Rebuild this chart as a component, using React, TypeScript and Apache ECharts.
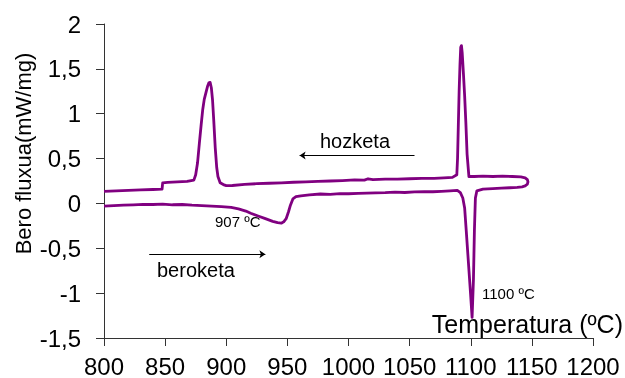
import React, { useEffect, useRef } from "react";
import * as echarts from "echarts";

// Temperature (°C), heat flux (mW/mg) — heating branch (beroketa), x ascending
const heatingT = [800, 808, 816, 824, 832, 840, 848, 856, 864, 872, 880, 888, 896, 904, 910, 916, 920, 926, 932, 938, 942, 945, 947, 949, 951, 952.5, 954.5, 957, 961, 968, 977, 985, 993, 1000, 1008, 1015, 1022, 1030, 1038, 1046, 1054, 1062, 1069, 1076, 1083, 1089, 1091.5, 1093.5, 1095, 1096.3, 1098.1, 1099.9, 1101.1, 1102.2, 1103, 1103.8, 1105, 1110, 1118, 1125, 1132, 1138, 1142];
const heatingF = [-0.03, -0.025, -0.02, -0.015, -0.01, -0.012, -0.008, -0.015, -0.012, -0.02, -0.025, -0.03, -0.035, -0.045, -0.06, -0.085, -0.11, -0.14, -0.17, -0.2, -0.215, -0.22, -0.205, -0.17, -0.09, -0.02, 0.05, 0.075, 0.085, 0.095, 0.105, 0.1, 0.11, 0.108, 0.112, 0.115, 0.118, 0.12, 0.125, 0.122, 0.128, 0.13, 0.13, 0.135, 0.14, 0.145, 0.12, 0.06, -0.05, -0.3, -0.66, -1.02, -1.27, -0.85, -0.3, 0.06, 0.14, 0.16, 0.165, 0.17, 0.175, 0.18, 0.185];

// Turning loop at the maximum temperature
const loopT = [1144.5, 1146.3, 1146.8, 1146.3, 1144.5];
const loopF = [0.195, 0.215, 0.24, 0.265, 0.285];

// Cooling branch (hozketa), x descending
const coolingT = [1141, 1134, 1126, 1118, 1110, 1103, 1098.5, 1097, 1096, 1095, 1094, 1093, 1092.4, 1091.8, 1091.2, 1090.5, 1089.8, 1089.2, 1088.6, 1085, 1078, 1070, 1060, 1050, 1040, 1030, 1020, 1016, 1013, 1005, 995, 985, 975, 965, 955, 945, 935, 925, 915, 905, 900, 897.6, 895, 893.2, 892.2, 891, 889.8, 888.8, 887.8, 886.8, 885.8, 884.8, 883.5, 882, 880.8, 879.5, 878, 876.5, 875, 873.5, 868, 860, 852, 848, 847.5, 840, 830, 820, 810, 800];
const coolingF = [0.295, 0.3, 0.305, 0.3, 0.305, 0.3, 0.3, 0.55, 0.9, 1.2, 1.45, 1.68, 1.76, 1.74, 1.55, 1.25, 0.85, 0.5, 0.32, 0.29, 0.285, 0.28, 0.28, 0.275, 0.27, 0.272, 0.265, 0.275, 0.26, 0.262, 0.255, 0.25, 0.245, 0.24, 0.236, 0.23, 0.225, 0.22, 0.212, 0.2, 0.198, 0.21, 0.23, 0.3, 0.4, 0.62, 0.92, 1.15, 1.29, 1.35, 1.345, 1.31, 1.24, 1.16, 1.05, 0.88, 0.67, 0.45, 0.32, 0.26, 0.245, 0.24, 0.235, 0.23, 0.16, 0.155, 0.15, 0.145, 0.14, 0.135];

// Axis ticks
const xMin = 800, xMax = 1200, xStep = 50;
const yMin = -1.5, yMax = 2, yStep = 0.5;

// Direction arrows (data coordinates)
const coolingArrow = [[1054, 0.535], [960, 0.535]];
const heatingArrow = [[837, -0.566], [932, -0.566]];

// Texts
const yAxisTitle = "Bero fluxua(mW/mg)";
const xAxisTitle = "Temperatura (ºC)";
const coolingLabel = "hozketa";
const heatingLabel = "beroketa";
const onsetLabel = "907 ºC";
const peakLabel = "1100 ºC";

const FONT = "'Liberation Sans', Arial, sans-serif";

export default function App() {
  const ref = useRef<HTMLDivElement>(null);
  useEffect(() => {
    document.body.style.margin = "0";
    const chart = echarts.init(ref.current!, null, { renderer: "svg" });
    const data: number[][] = [];
    heatingT.forEach((t, i) => data.push([t, heatingF[i]]));
    loopT.forEach((t, i) => data.push([t, loopF[i]]));
    coolingT.forEach((t, i) => data.push([t, coolingF[i]]));
    const axisColor = "#333333";
    chart.setOption({
      animation: false,
      textStyle: { fontFamily: FONT },
      grid: { left: 104, right: 32, top: 24, bottom: 40, containLabel: false },
      xAxis: {
        type: "value",
        min: xMin,
        max: xMax,
        interval: xStep,
        axisLine: { onZero: false, lineStyle: { color: axisColor, width: 1 } },
        axisTick: { show: true, length: 8, inside: false, lineStyle: { color: axisColor } },
        splitLine: { show: false },
        axisLabel: { color: "#000", fontSize: 24, margin: 16, fontFamily: FONT, formatter: (v: number) => String(v) },
      },
      yAxis: {
        type: "value",
        min: yMin,
        max: yMax,
        interval: yStep,
        axisLine: { show: true, onZero: false, lineStyle: { color: axisColor, width: 1 } },
        axisTick: { show: true, length: 8, inside: false, lineStyle: { color: axisColor } },
        splitLine: { show: false },
        axisLabel: {
          color: "#000",
          fontSize: 24,
          margin: 23,
          fontFamily: FONT,
          formatter: (v: number) => String(v).replace(".", ","),
        },
      },
      series: [
        {
          type: "line",
          data,
          showSymbol: false,
          symbol: "none",
          smooth: false,
          clip: false,
          lineStyle: { color: "#800080", width: 2.8, join: "round" },
          markLine: {
            silent: true,
            symbol: ["none", "arrow"],
            symbolSize: 6,
            label: { show: false },
            lineStyle: { color: "#000", width: 1, type: "solid" },
            data: [
              [{ coord: coolingArrow[0] }, { coord: coolingArrow[1] }],
              [{ coord: heatingArrow[0] }, { coord: heatingArrow[1] }],
            ],
          },
        },
      ],
      graphic: [
        {
          type: "text",
          x: 23,
          y: 153.5,
          rotation: Math.PI / 2,
          style: { text: yAxisTitle, font: `22px ${FONT}`, fill: "#000", align: "center", verticalAlign: "middle" },
        },
        {
          type: "text",
          x: 623,
          y: 324,
          style: { text: xAxisTitle, font: `25px ${FONT}`, fill: "#000", align: "right", verticalAlign: "middle" },
        },
        {
          type: "text",
          x: 320,
          y: 141,
          style: { text: coolingLabel, font: `20px ${FONT}`, fill: "#000", align: "left", verticalAlign: "middle" },
        },
        {
          type: "text",
          x: 157,
          y: 270,
          style: { text: heatingLabel, font: `20px ${FONT}`, fill: "#000", align: "left", verticalAlign: "middle" },
        },
        {
          type: "text",
          x: 215,
          y: 221,
          style: { text: onsetLabel, font: `15px ${FONT}`, fill: "#000", align: "left", verticalAlign: "middle" },
        },
        {
          type: "text",
          x: 482,
          y: 293.5,
          style: { text: peakLabel, font: `15px ${FONT}`, fill: "#000", align: "left", verticalAlign: "middle" },
        },
      ],
    });
    return () => chart.dispose();
  }, []);
  return <div ref={ref} style={{ position: "fixed", left: 0, top: 0, width: 625, height: 378 }} />;
}
